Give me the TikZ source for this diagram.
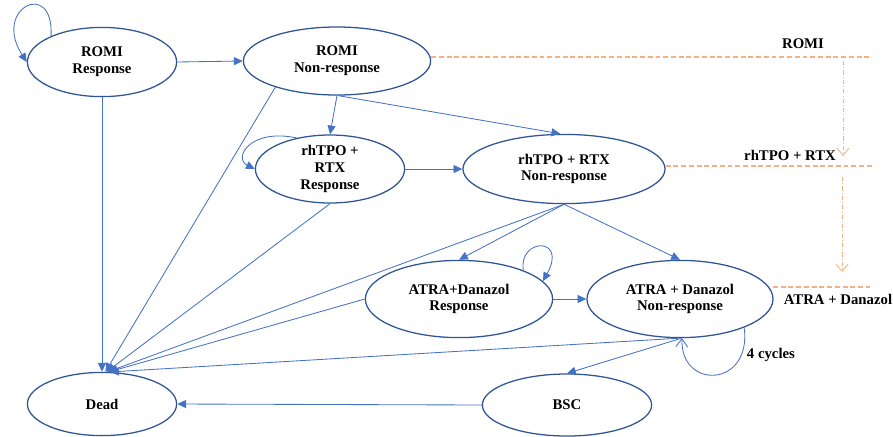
\documentclass[tikz,border=0pt]{standalone}
\usepackage{fontspec}
\setmainfont{Liberation Serif}
\usetikzlibrary{shapes.geometric,arrows.meta}
\definecolor{edgeblue}{HTML}{4472C4}
\definecolor{rimblue}{HTML}{2F5597}
\definecolor{lineorange}{HTML}{F4B183}
\tikzset{
>={Triangle[length=2.2mm,width=2mm]},
every node/.style={font=\fontsize{10.5}{12}\selectfont\bfseries, align=center},
phase/.style={ellipse, draw=rimblue, line width=0.9pt, fill=white, inner sep=0pt},
link/.style={->, draw=edgeblue, line width=0.6pt},
track/.style={draw=lineorange, line width=0.8pt, dash pattern=on 3.5pt off 2pt},
drop/.style={draw=lineorange, line width=0.6pt, dash pattern=on 3pt off 1.5pt on 0.7pt off 1.5pt,
  -{Straight Barb[length=1.8mm,width=3mm]}},
}

\begin{document}
\begin{tikzpicture}[x=0.025cm, y=-0.025cm]
        \useasboundingbox (0,0) rectangle (893,436);

        % states
        \node[phase, minimum width=3.73cm, minimum height=1.73cm] (rr) at (102,62) {ROMI\\Response};
        \node[phase, minimum width=4.68cm, minimum height=1.70cm] (rn) at (337,61) {ROMI\\Non-response};
        \node[phase, minimum width=3.73cm, minimum height=1.70cm] (tr) at (330,169) {rhTPO +\\RTX\\Response};
        \node[phase, minimum width=5.05cm, minimum height=1.73cm] (tn) at (564,169) {rhTPO + RTX\\Non-response};
        \node[phase, minimum width=4.68cm, minimum height=1.93cm] (ar) at (459,299) {ATRA+Danazol\\Response};
        \node[phase, minimum width=4.65cm, minimum height=1.93cm] (an) at (680,299) {ATRA + Danazol\\Non-response};
        \node[phase, minimum width=4.23cm, minimum height=1.55cm] (bsc) at (567,405) {BSC};
        \node[phase, minimum width=3.73cm, minimum height=1.58cm] (dead) at (102,404) {Dead};

        % transitions
        \draw[link] (rr.153) .. controls (54,-22) and (-8,8) .. (rr.west);
        \draw[link] (rr.east) -- (rn.west);
        \draw[link] (rr.south) -- (dead.north);
        \draw[link] (rn.203) -- (dead.84);
        \draw[link] (rn.south) -- (tr.north);
        \draw[link] (rn.-88) -- (tn.96);
        \draw[link] (tr.137) .. controls (250,128) and (233,158) .. (tr.west);
        \draw[link] (tr.east) -- (tn.west);
        \draw[link] (tr.south) -- (dead.82);
        \draw[link] (tn.south) -- (dead.80);
        \draw[link] (tn.south) -- (ar.north);
        \draw[link] (tn.south) -- (an.north);
        \draw[link] (ar.24) .. controls (518,238) and (568,236) .. (ar.12);
        \draw[link] (ar.east) -- (an.west);
        \draw[link] (ar.west) -- (dead.78);
        \draw[link] (an.-92) -- (dead.76);
        \draw[link] (an.-88) -- (bsc.north);
        \draw[draw=edgeblue, line width=0.6pt, -{Straight Barb[length=2mm,width=3mm]}]
            (an.-24) .. controls (752,388) and (680,390) .. (an.-87);
        \node[anchor=west] (cyc) at (742,355) {4 cycles};
        \draw[link] (bsc.west) -- (dead.east);

        % treatment lines
        \coordinate (romiend) at (872,57);
        \coordinate (tpoend) at (872,166);
        \coordinate (atraend) at (870,287);
        \draw[track] (rn.east |- romiend) -- (romiend);
        \draw[track] (tn.east |- tpoend) -- (tpoend);
        \draw[track] (773,287) -- (atraend);
        \node (romi) at (803,44) {ROMI};
        \node (tpo) at (790,155) {rhTPO + RTX};
        \node (atra) at (838,299) {ATRA + Danazol};
        \coordinate (d1) at (843,61);
        \coordinate (d2) at (843,156);
        \coordinate (d3) at (842,177);
        \coordinate (d4) at (842,272);
        \draw[drop] (d1) -- (d2);
        \draw[drop] (d3) -- (d4);
    \end{tikzpicture}
\end{document}
